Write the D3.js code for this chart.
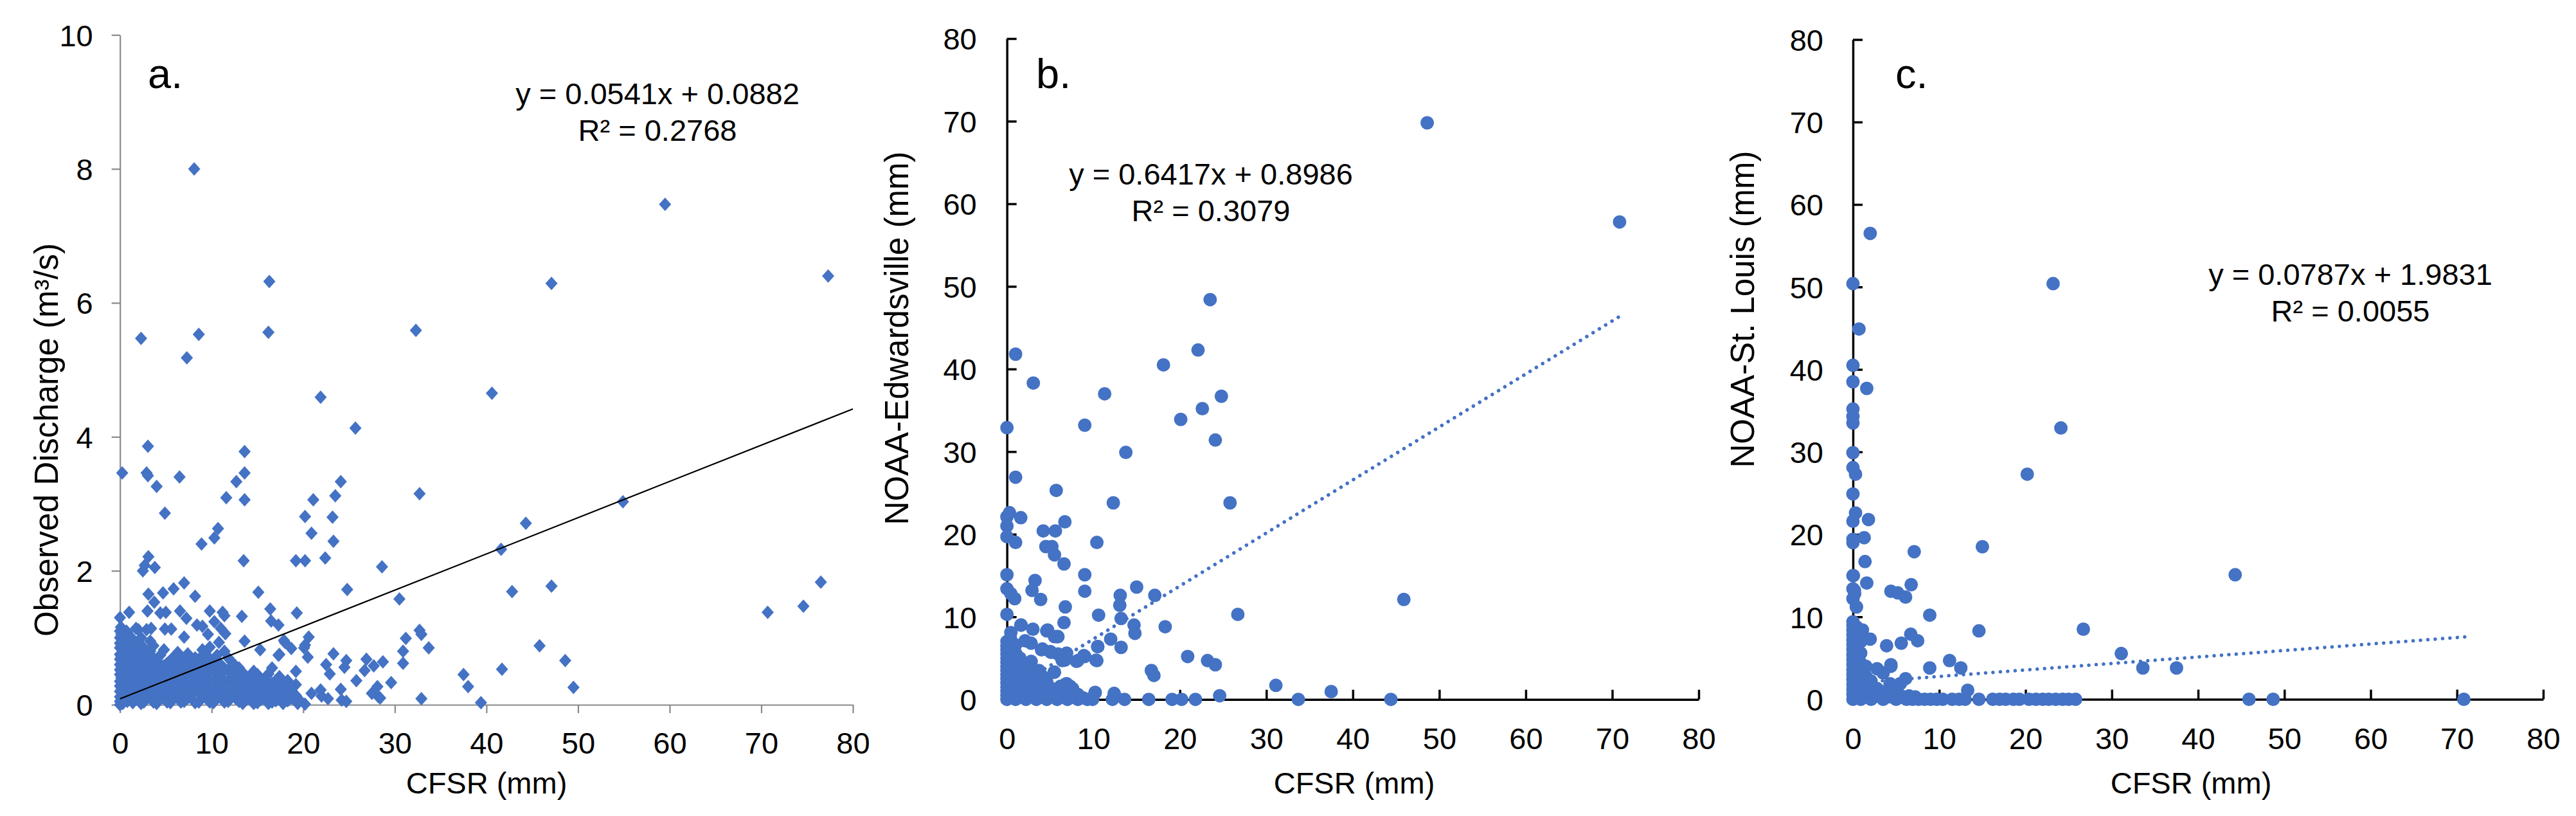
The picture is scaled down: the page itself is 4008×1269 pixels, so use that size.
<!DOCTYPE html>
<html>
<head>
<meta charset="utf-8">
<script src="https://cdn.jsdelivr.net/npm/d3@7"></script>
<style>
  body { margin: 0; background: #fff; }
  svg { display: block; }
  text { font-family: "Liberation Sans", Arial, sans-serif; fill: #000; }
</style>
</head>
<body>
<svg id="chart" width="4008" height="1269"></svg>
<script>
const obsDischarge = [
  // scattered points
  [8.1,8.0],[59.5,7.47],[77.3,6.40],[16.3,6.32],[47.1,6.29],[2.3,5.47],[8.6,5.53],[16.2,5.56],[32.3,5.59],
  [7.3,5.18],[21.9,4.59],[40.6,4.65],[25.7,4.13],[3.05,3.86],[13.6,3.78],[0.24,3.46],[2.9,3.46],[3.05,3.42],
  [6.5,3.40],[4.0,3.26],[13.6,3.46],[12.7,3.33],[24.1,3.33],[11.6,3.09],[13.6,3.06],[21.1,3.06],[23.5,3.12],
  [32.7,3.15],[54.9,3.03],[4.9,2.86],[20.2,2.81],[23.2,2.80],[44.3,2.71],[10.7,2.63],[10.3,2.49],[20.9,2.56],
  [23.3,2.44],[8.9,2.40],[3.1,2.21],[2.5,2.0],[2.7,2.08],[3.8,2.05],[13.5,2.15],[19.2,2.15],[20.2,2.15],
  [22.4,2.19],[28.6,2.06],[41.6,2.32],[3.1,1.65],[4.7,1.67],[5.85,1.73],[7.0,1.82],[8.2,1.62],[15.1,1.68],
  [24.8,1.72],[42.8,1.69],[47.1,1.77],[76.5,1.83],[74.6,1.47],[70.7,1.38],[30.5,1.58],[19.3,1.37],[13.3,1.32],
  [16.4,1.43],[16.5,1.25],[17.3,1.19],[20.6,1.01],[31.2,0.99],[32.7,1.11],[32.9,1.05],[33.7,0.85],[30.9,0.80],
  [30.9,0.62],[45.8,0.88],[48.6,0.66],[49.5,0.26],[41.7,0.53],[37.5,0.45],[38.0,0.27],[39.4,0.03],[32.9,0.09],
  [29.6,0.33],[28.7,0.64],[26.9,0.68],[27.7,0.58],[26.7,0.51],[28.1,0.27],[27.5,0.17],[28.2,0.12],[28.4,0.10],
  [25.8,0.36],[24.7,0.66],[24.5,0.56],[22.9,0.46],[22.5,0.60],[23.3,0.76],[24.1,0.23],[24.2,0.07],[24.7,0.05],
  [21.9,0.22],[20.9,0.17],[22.0,0.13],[22.7,0.09],[19.6,0.07],[19.4,0.02],[20.2,0.01],[20.2,0.89],[18.7,0.84],
  [17.9,0.96],[17.4,0.75],[3.74,1.53],[1.0,1.38],[0,1.30],[3.0,1.40],[4.4,1.37],[5.0,1.38],[6.55,1.40],
  [7.25,1.29],[9.8,1.40],[11.2,1.38],[11.4,1.33],[0.1,1.16],[0.7,1.10],[1.75,1.14],[2.9,1.12],[3.4,1.14],
  [4.9,1.13],[5.6,1.13],[7.0,1.01],[8.4,1.19],[9.0,1.17],[10.3,1.24],[11.0,1.14],[9.6,1.05],[11.5,1.06],
  [10.8,0.93],[13.6,0.95],[18.0,0.93],[15.3,0.82],[17.3,0.74],[20.1,0.85],[20.5,0.71],
  // dense cluster near the origin
  [0,0],[0,0.05],[0,0.12],[0,0.2],[0,0.28],[0,0.35],[0,0.45],[0,0.52],[0,0.6],[0,0.68],[0,0.75],[0,0.85],[0,0.92],[0,1.0],[0,1.1],
  [0.3,0.02],[0.3,0.15],[0.3,0.3],[0.3,0.42],[0.3,0.58],[0.3,0.7],[0.3,0.82],[0.3,0.95],
  [0.8,0.05],[0.8,0.18],[0.8,0.33],[0.8,0.48],[0.8,0.62],[0.8,0.77],[0.8,0.9],[0.8,1.08],
  [1.4,0.03],[1.4,0.22],[1.4,0.38],[1.4,0.55],[1.4,0.7],[1.4,0.85],[1.4,0.98],
  [2.0,0.1],[2.0,0.25],[2.0,0.42],[2.0,0.6],[2.0,0.78],[2.0,0.92],[2.0,1.12],
  [2.6,0.04],[2.6,0.2],[2.6,0.36],[2.6,0.52],[2.6,0.68],[2.6,0.85],
  [3.3,0.12],[3.3,0.3],[3.3,0.46],[3.3,0.62],[3.3,0.8],[3.3,0.95],
  [4.0,0.02],[4.0,0.18],[4.0,0.35],[4.0,0.5],[4.0,0.66],
  [4.8,0.1],[4.8,0.26],[4.8,0.42],[4.8,0.58],[4.8,0.82],
  [5.5,0.03],[5.5,0.2],[5.5,0.36],[5.5,0.52],[5.5,0.66],
  [6.3,0.12],[6.3,0.28],[6.3,0.45],[6.3,0.6],[6.3,0.78],
  [7.0,0.05],[7.0,0.22],[7.0,0.38],[7.0,0.55],[7.0,0.7],
  [7.8,0.14],[7.8,0.3],[7.8,0.47],[7.8,0.62],
  [8.6,0.04],[8.6,0.2],[8.6,0.36],[8.6,0.52],[8.6,0.68],
  [9.4,0.1],[9.4,0.28],[9.4,0.44],[9.4,0.6],[9.4,0.75],
  [10.2,0.03],[10.2,0.18],[10.2,0.35],[10.2,0.52],[10.2,0.66],
  [11.0,0.12],[11.0,0.28],[11.0,0.45],[11.0,0.6],
  [11.8,0.05],[11.8,0.2],[11.8,0.36],[11.8,0.52],[11.8,0.7],
  [12.6,0.1],[12.6,0.26],[12.6,0.42],[12.6,0.58],
  [13.4,0.02],[13.4,0.18],[13.4,0.34],[13.4,0.48],
  [14.2,0.08],[14.2,0.24],[14.2,0.4],
  [15.0,0.03],[15.0,0.16],[15.0,0.3],[15.0,0.45],
  [15.8,0.1],[15.8,0.25],[15.8,0.38],
  [16.6,0.04],[16.6,0.18],[16.6,0.32],[16.6,0.55],
  [17.4,0.12],[17.4,0.28],[17.4,0.42],
  [18.3,0.06],[18.3,0.2],[18.3,0.36],
  [19.2,0.14],[19.2,0.3],[19.2,0.5],
  [0.15,0.08],[0.15,0.25],[0.15,0.4],[0.15,0.55],[0.15,0.72],[0.15,0.88],[0.15,1.05],
  [0.55,0.1],[0.55,0.24],[0.55,0.5],[0.55,0.64],[0.55,0.78],[0.55,1.0],
  [1.1,0.12],[1.1,0.27],[1.1,0.42],[1.1,0.56],[1.1,0.7],[1.1,0.84],[1.1,0.96],
  [1.7,0.1],[1.7,0.3],[1.7,0.46],[1.7,0.62],[1.7,0.78],[1.7,0.92],
  [2.3,0.02],[2.3,0.18],[2.3,0.34],[2.3,0.5],[2.3,0.68],[2.3,0.84],[2.3,1.0],
  [2.95,0.1],[2.95,0.27],[2.95,0.44],[2.95,0.6],[2.95,0.74],
  [3.65,0.04],[3.65,0.2],[3.65,0.38],[3.65,0.54],[3.65,0.7],[3.65,0.88],
  [4.4,0.1],[4.4,0.26],[4.4,0.44],[4.4,0.6],[4.4,0.74],
  [5.15,0.04],[5.15,0.18],[5.15,0.34],[5.15,0.5],[5.15,0.62],
  [5.9,0.1],[5.9,0.27],[5.9,0.44],[5.9,0.58],[5.9,0.72],
  [6.65,0.04],[6.65,0.2],[6.65,0.36],[6.65,0.52],[6.65,0.68],
  [7.4,0.1],[7.4,0.28],[7.4,0.46],[7.4,0.62],[7.4,0.76],
  [8.2,0.03],[8.2,0.22],[8.2,0.38],[8.2,0.56],[8.2,0.7],
  [9.0,0.12],[9.0,0.27],[9.0,0.44],[9.0,0.6],[9.0,0.82],
  [9.8,0.04],[9.8,0.2],[9.8,0.36],[9.8,0.52],[9.8,0.68],[9.8,0.86],
  [10.6,0.1],[10.6,0.26],[10.6,0.42],[10.6,0.6],[10.6,0.74],
  [11.4,0.04],[11.4,0.2],[11.4,0.36],[11.4,0.54],[11.4,0.8],
  [12.2,0.12],[12.2,0.3],[12.2,0.46],[12.2,0.64],
  [13.0,0.05],[13.0,0.22],[13.0,0.38],[13.0,0.55],
  [13.8,0.1],[13.8,0.28],[13.8,0.42],
  [14.6,0.02],[14.6,0.16],[14.6,0.32],[14.6,0.5],
  [15.4,0.08],[15.4,0.22],[15.4,0.36],
  [16.2,0.02],[16.2,0.14],[16.2,0.3],[16.2,0.46],
  [17.0,0.06],[17.0,0.2],[17.0,0.36],
  [17.8,0.02],[17.8,0.14],[17.8,0.3],
  [18.7,0.1],[18.7,0.24]
];

const noaaEdwardsville = [
  [48.6,69.8],[70.85,57.8],[23.5,48.4],[22.1,42.3],[18.1,40.5],[1.0,41.8],[3.05,38.3],[11.3,37.0],[24.8,36.7],
  [22.6,35.2],[20.1,33.9],[9.0,33.2],[0,32.9],[24.1,31.4],[13.75,29.9],[1.0,26.9],[5.7,25.3],[12.3,23.8],
  [25.8,23.8],[0,22.1],[0.3,22.6],[1.6,22.0],[6.7,21.5],[4.2,20.4],[5.6,20.4],[0,21.0],[0,19.7],[1.0,19.0],
  [10.4,19.0],[4.5,18.5],[5.2,18.5],[5.5,17.5],[6.6,16.4],[0,15.1],[9.0,15.1],[3.25,14.4],[0,13.4],[0.45,12.8],
  [2.9,13.2],[9.0,13.1],[15.0,13.6],[13.1,12.6],[17.1,12.6],[0.9,12.2],[3.9,12.1],[45.9,12.1],[13.05,11.4],
  [6.75,11.2],[0,10.3],[26.7,10.3],[10.6,10.2],[13.2,9.8],[6.6,9.3],[1.65,9.0],[14.7,9.0],[18.3,8.8],[3.0,8.5],
  [4.6,8.3],[14.8,8.0],[5.5,7.6],[5.9,7.6],[12.0,7.3],[0.45,8.1],[2.8,6.8],[10.5,6.4],[13.2,6.3],[4.1,6.1],
  [6.9,5.6],[5.1,5.7],[20.9,5.2],[9.0,5.2],[8.2,4.7],[10.4,4.7],[23.2,4.7],[24.1,4.2],[6.4,4.7],[5.5,3.3],
  [16.7,3.5],[17.0,2.9],[31.1,1.7],[37.5,0.95],[33.7,0],[44.4,0],[24.6,0.45],[21.8,0],[20.2,0],[19.1,0],
  [16.4,0],[13.6,0],[12.5,0.45],[12.2,0],[10.2,0.8],[9.9,0],[7.3,1.6],[6.7,1.8],
  [2.1,7.1],[1.5,5.0],[2.2,4.0],[1.0,2.4],[3.0,2.4],[3.7,3.5],[4.0,2.9],[5.45,3.3],[5.9,5.5],[6.7,4.75],
  [8.05,4.6],[8.9,5.3],[10.3,4.75],[10.5,6.4],[6.9,1.9],[7.4,1.4],[7.7,0.86],[6.2,1.6],[10.2,0.86],[12.4,0.73],
  [1.6,9.0],[4.7,8.4],[5.8,7.6],[4.0,6.0],[5.0,5.8],
  // dense cluster near the origin
  [0,0],[0,0.5],[0,1],[0,1.5],[0,2],[0,2.5],[0,3],[0,3.5],[0,4],[0,4.5],[0,5],[0,5.5],[0,6],[0,6.5],[0,7],
  [0.4,0.3],[0.4,1.2],[0.4,2.2],[0.4,3.2],[0.4,4.2],[0.4,5.2],[0.4,6.2],[0.4,7.4],
  [1.0,0],[1.0,0.8],[1.0,1.8],[1.0,2.8],[1.0,3.8],[1.0,4.8],[1.0,5.6],[1.0,6.6],
  [1.6,0.4],[1.6,1.4],[1.6,2.4],[1.6,3.4],[1.6,4.4],
  [2.2,0],[2.2,1.0],[2.2,2.0],[2.2,3.0],
  [2.8,0.5],[2.8,1.5],[2.8,2.6],[2.8,3.6],[2.8,4.6],
  [3.4,0],[3.4,1.0],[3.4,2.2],[3.4,3.2],
  [4.0,0.4],[4.0,1.4],
  [4.6,0],[4.6,0.9],[4.6,2.2],
  [5.2,0.4],[5.2,1.3],
  [5.8,0],[5.8,0.9],
  [6.4,0.4],[6.4,1.5],
  [7.0,0],[7.0,0.8],
  [7.6,0.3],[7.6,1.3],
  [8.2,0],[8.2,0.6],[8.8,0.2],[9.3,0],
  [0.7,1.0],[0.7,3.0],[0.7,5.0],[1.3,2.6],[1.9,1.8],[2.5,3.8],[3.1,1.8],[3.7,0.6],[4.3,1.7],[5.0,0.7]
];

const noaaStLouis = [
  [2.0,56.5],[0,50.4],[23.2,50.4],[0.7,44.9],[0,40.5],[0,38.5],[1.6,37.7],[0,35.2],[0,34.3],[0,33.5],
  [24.1,32.9],[0,29.9],[0,28.1],[0.3,27.3],[20.2,27.3],[0,24.9],[0.3,22.6],[0,21.6],[1.8,21.8],[0,19.4],
  [0,19.0],[1.3,19.6],[15.0,18.5],[7.1,17.9],[1.4,16.7],[0,15.0],[44.3,15.1],[1.6,14.1],[0,13.4],[0.2,12.8],
  [6.75,13.9],[4.4,13.1],[5.2,12.9],[6.1,12.4],[0,12.2],[0.4,11.2],[8.9,10.2],[26.7,8.5],[14.6,8.3],[6.7,7.9],
  [7.5,7.1],[1.1,8.4],[2.0,7.3],[3.9,6.5],[5.6,6.8],[31.1,5.55],[11.2,4.7],[12.5,3.8],[8.9,3.8],[33.6,3.8],
  [37.5,3.8],[4.4,4.0],[2.8,3.7],[6.1,2.5],[13.3,1.1],[45.9,0],[48.7,0],[70.8,0],
  [0.05,15.0],[0.17,13.2],[0.4,11.2],[4.4,4.2],[3.5,3.2],[5.5,1.9],[4.3,1.9],
  // dense cluster near the origin and along the x-axis
  [0,0],[0,0.6],[0,1.2],[0,1.8],[0,2.4],[0,3],[0,3.6],[0,4.2],[0,4.8],[0,5.4],[0,6],[0,6.6],[0,7.2],[0,7.8],[0,8.4],[0,9.0],[0,9.4],
  [0.4,0.3],[0.4,1.5],[0.4,2.7],[0.4,3.9],[0.4,5.1],[0.4,6.3],[0.4,7.5],[0.4,8.8],
  [0.9,0],[0.9,1.0],[0.9,2.0],[0.9,3.2],[0.9,4.4],[0.9,5.6],[0.9,7.0],
  [1.5,0.4],[1.5,1.6],[1.5,2.8],[1.5,4.0],
  [2.1,0],[2.1,1.0],[2.1,2.2],
  [2.8,0.4],[2.8,1.3],
  [3.5,0],[3.5,0.9],
  [4.3,0.3],[5.0,0],[5.0,1.0],[5.6,0.4],[6.5,0.4],[7.2,0.3],
  [6.2,0],[6.9,0],[7.6,0],[8.3,0],[9.0,0],[9.7,0],[10.4,0],[11.5,0],[12.3,0],[13.0,0],[14.6,0],
  [16.2,0],[17.0,0],[17.7,0],[18.6,0],[19.3,0],[20.4,0],[21.2,0],[22.0,0],[22.7,0],[23.5,0],[24.3,0],
  [25.0,0],[25.8,0]
];

// axes and fits
const xTicks = [0, 10, 20, 30, 40, 50, 60, 70, 80];
const yTicksA = [0, 2, 4, 6, 8, 10];
const yTicksBC = [0, 10, 20, 30, 40, 50, 60, 70, 80];
const panelLabels = ["a.", "b.", "c."];
const xTitles = ["CFSR (mm)", "CFSR (mm)", "CFSR (mm)"];
const yTitles = ["Observed Discharge (m³/s)", "NOAA-Edwardsville (mm)", "NOAA-St. Louis (mm)"];
const fitSlopes = [0.0541, 0.6417, 0.0787];
const fitIntercepts = [0.0882, 0.8986, 1.9831];
const fitR2 = ["0.2768", "0.3079", "0.0055"];
const fitRanges = [[0, 80], [0, 70.9], [0, 70.9]];

const BLUE = "#4472C4";
const svg = d3.select("#chart");
svg.append("rect").attr("width", 4008).attr("height", 1269).attr("fill", "#fff");

// layout for each panel (pixels)
const panels = [
  { data: obsDischarge, yMax: 10, yTicks: yTicksA,
    left: 186.7, right: 1327, bottom: 1096, top: 54.3,
    diamond: true, axisColor: "#898989", axisWidth: 2.2, inside: false, padX: 30, padY: 29,
    fitOnTop: true, dotted: false,
    label: [230, 137], eq: [1023, 162], xTitle: [757, 1234], yTitle: [90, 684] },
  { data: noaaEdwardsville, yMax: 80, yTicks: yTicksBC,
    left: 1566.7, right: 2643, bottom: 1087.7, top: 60,
    diamond: false, axisColor: "#000", axisWidth: 3.5, inside: true, padX: 44, padY: 47,
    fitOnTop: false, dotted: true,
    label: [1612, 137], eq: [1884, 287], xTitle: [2107, 1234], yTitle: [1413, 526] },
  { data: noaaStLouis, yMax: 80, yTicks: yTicksBC,
    left: 2883, right: 3957, bottom: 1087.5, top: 61.5,
    diamond: false, axisColor: "#000", axisWidth: 3.5, inside: true, padX: 44, padY: 46,
    fitOnTop: false, dotted: true,
    label: [2949, 137], eq: [3657, 443], xTitle: [3409, 1234], yTitle: [2729, 481] }
];

panels.forEach((p, i) => {
  const x = d3.scaleLinear().domain([0, 80]).range([p.left, p.right]);
  const y = d3.scaleLinear().domain([0, p.yMax]).range([p.bottom, p.top]);
  const g = svg.append("g");

  // axes
  const tickLen = p.inside ? -15 : 13;
  const xAxis = d3.axisBottom(x).tickValues(xTicks).tickSizeInner(tickLen).tickSizeOuter(0)
    .tickPadding(p.padX).tickFormat(d3.format("d"));
  const yAxis = d3.axisLeft(y).tickValues(p.yTicks).tickSizeInner(tickLen).tickSizeOuter(0)
    .tickPadding(p.padY).tickFormat(d3.format("d"));

  const gx = g.append("g").attr("transform", `translate(0,${p.bottom})`).call(xAxis);
  const gy = g.append("g").attr("transform", `translate(${p.left},0)`).call(yAxis);
  [gx, gy].forEach(ax => {
    ax.selectAll("path, line").attr("stroke", p.axisColor).attr("stroke-width", p.axisWidth);
    ax.selectAll("text").attr("font-size", 47).attr("fill", "#000")
      .style("font-family", '"Liberation Sans", Arial, sans-serif');
  });
  gy.selectAll("text").attr("dy", "0.36em");

  // trendline
  const fitLine = () => {
    const [a, b] = fitRanges[i];
    const line = g.append("line")
      .attr("x1", x(a)).attr("y1", y(fitSlopes[i] * a + fitIntercepts[i]))
      .attr("x2", x(b)).attr("y2", y(fitSlopes[i] * b + fitIntercepts[i]));
    if (p.dotted) {
      line.attr("stroke", BLUE).attr("stroke-width", 5.5)
        .attr("stroke-linecap", "round").attr("stroke-dasharray", "0.1 11.4");
    } else {
      line.attr("stroke", "#000").attr("stroke-width", 2.2);
    }
  };

  if (!p.fitOnTop) fitLine();

  // markers
  const marks = g.append("g");
  if (p.diamond) {
    marks.selectAll("path").data(p.data).join("path")
      .attr("d", "M0,-10.5L9.5,0L0,10.5L-9.5,0Z")
      .attr("transform", d => `translate(${x(d[0])},${y(d[1])})`)
      .attr("fill", BLUE);
  } else {
    marks.selectAll("circle").data(p.data).join("circle")
      .attr("cx", d => x(d[0])).attr("cy", d => y(d[1])).attr("r", 10.5)
      .attr("fill", BLUE);
  }

  if (p.fitOnTop) fitLine();

  // panel label
  g.append("text").attr("x", p.label[0]).attr("y", p.label[1])
    .attr("font-size", 65).text(panelLabels[i]);

  // equation
  const eq = g.append("text").attr("text-anchor", "middle").attr("font-size", 47);
  eq.append("tspan").attr("x", p.eq[0]).attr("y", p.eq[1])
    .text(`y = ${fitSlopes[i].toFixed(4)}x + ${fitIntercepts[i].toFixed(4)}`);
  eq.append("tspan").attr("x", p.eq[0]).attr("y", p.eq[1] + 57)
    .text(`R² = ${fitR2[i]}`);

  // axis titles
  g.append("text").attr("x", p.xTitle[0]).attr("y", p.xTitle[1])
    .attr("text-anchor", "middle").attr("font-size", 47).text(xTitles[i]);
  g.append("text")
    .attr("transform", `translate(${p.yTitle[0]},${p.yTitle[1]}) rotate(-90)`)
    .attr("text-anchor", "middle").attr("font-size", 51).text(yTitles[i]);
});
</script>
</body>
</html>
